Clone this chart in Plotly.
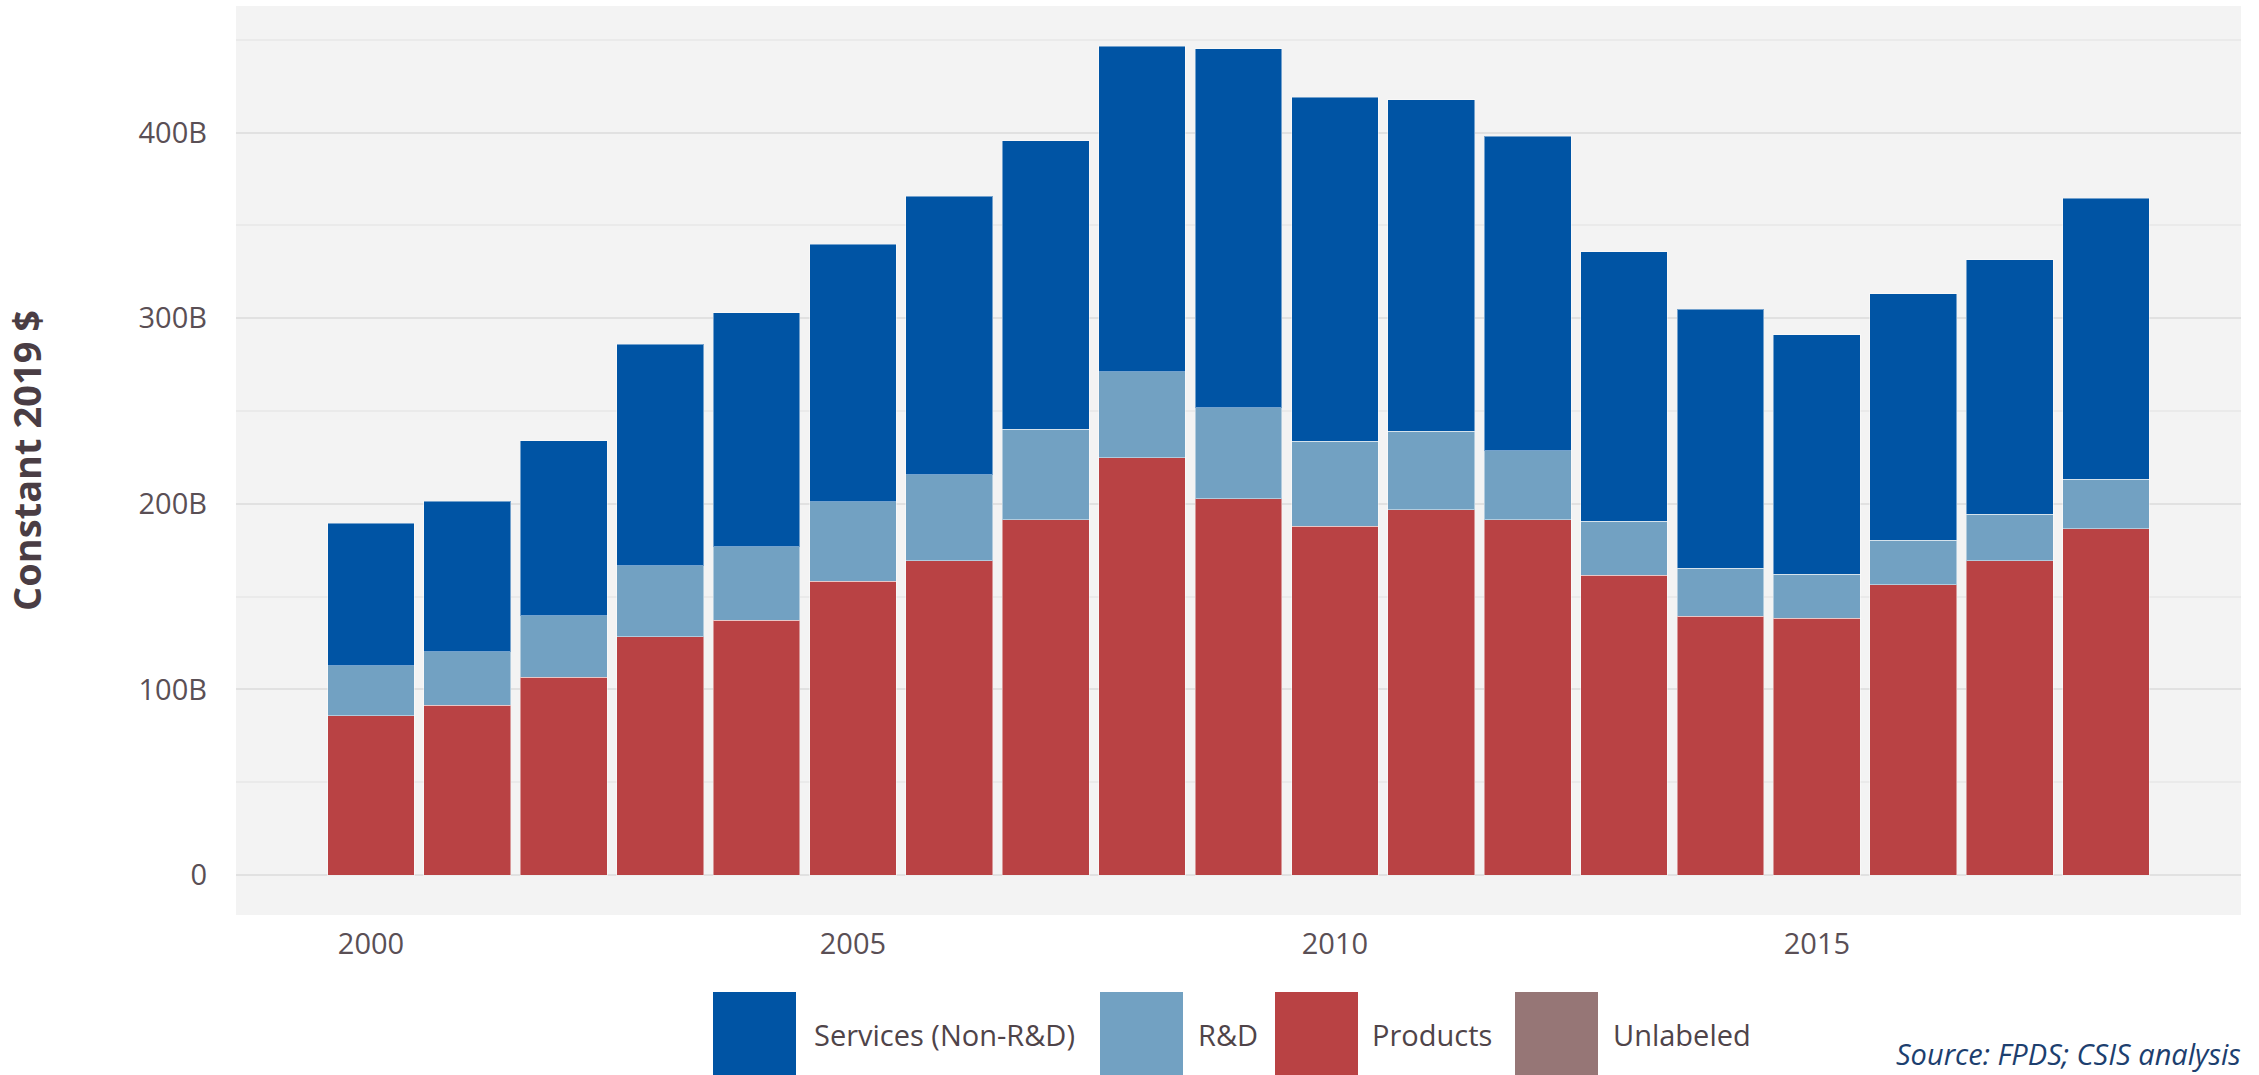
import plotly.graph_objects as go

# ---- data (billions of constant 2019 $) ----
years = list(range(2000, 2019))
products = [85.8, 91.5, 106.6, 128.5, 137.2, 158.2, 169.4, 191.3, 224.7, 202.8,
            188.0, 196.9, 191.3, 161.6, 139.4, 138.4, 156.4, 169.4, 186.7]
rnd = [27.0, 28.7, 33.1, 38.1, 39.6, 43.0, 46.4, 48.9, 46.4, 49.1,
       45.8, 42.1, 37.2, 29.1, 26.0, 23.6, 24.1, 25.0, 26.6]
services = [76.7, 81.3, 94.3, 119.4, 126.2, 138.6, 150.0, 155.3, 175.5, 193.4,
            185.2, 178.8, 169.5, 145.1, 139.4, 129.2, 132.7, 137.0, 151.2]
unlabeled = [0.0] * len(years)

series_names = ["Services (Non-R&D)", "R&D", "Products", "Unlabeled"]
series_colors = ["#0054a4", "#72a1c2", "#b94244", "#967676"]

y_tickvals = [0, 100, 200, 300, 400]
y_ticktext = ["0", "100B", "200B", "300B", "400B"]
y_minorvals = [50, 150, 250, 350, 450]
x_tickvals = [2000, 2005, 2010, 2015]
x_ticktext = ["2000", "2005", "2010", "2015"]

# ---- figure geometry (pixels) ----
W, H = 2259, 1075
L, R, T, B = 236, 18, 6, 160
PW, PH = W - L - R, H - T - B

def px(x):
    return (x - L) / PW

def py(y):
    return (H - B - y) / PH

TEXT = "#4f4449"
FONT = "Open Sans"

fig = go.Figure()
stack = [("Products", products), ("R&D", rnd), ("Services (Non-R&D)", services), ("Unlabeled", unlabeled)]
color_of = dict(zip(series_names, series_colors))
for name, vals in stack:
    fig.add_trace(go.Bar(
        x=years, y=vals, name=name,
        marker=dict(color=color_of[name],
                    line=dict(color="rgba(255,255,255,0.45)", width=0 if name == "Unlabeled" else 1)),
        showlegend=False,
    ))

# custom legend (large swatches)
sw_left = [713, 1100, 1275, 1515]
txt_left = [812, 1196, 1370, 1611]
for name, col, sx, tx in zip(series_names, series_colors, sw_left, txt_left):
    fig.add_shape(type="rect", xref="paper", yref="paper",
                  x0=px(sx), x1=px(sx + 83), y0=py(1085), y1=py(992),
                  fillcolor=col, line=dict(width=0), layer="above")
    fig.add_annotation(xref="paper", yref="paper", x=px(tx), y=py(1034),
                       xanchor="left", yanchor="middle", text=name, showarrow=False,
                       font=dict(family=FONT, size=29, color=TEXT))

fig.add_annotation(xref="paper", yref="paper", x=px(2243), y=py(1075),
                   xanchor="right", yanchor="bottom", text="<i>Source: FPDS; CSIS analysis</i>",
                   showarrow=False, font=dict(family=FONT, size=29, color="#1d3f6f"))

fig.update_layout(
    width=W, height=H,
    margin=dict(l=L, r=R, t=T, b=B, autoexpand=False),
    barmode="stack", bargap=0.1,
    paper_bgcolor="white", plot_bgcolor="#f3f3f3",
    font=dict(family=FONT, color=TEXT, size=29),
    xaxis=dict(range=[1998.6, 2019.4], tickvals=x_tickvals, ticktext=x_ticktext,
               showgrid=False, zeroline=False, showline=False,
               ticks="", ticklabelstandoff=9,
               tickfont=dict(family=FONT, size=29, color="#5a4f55")),
    yaxis=dict(range=[-21.5, 468.2], tickvals=y_tickvals, ticktext=y_ticktext,
               showgrid=True, gridcolor="#e1e1e1", gridwidth=2, zeroline=False, showline=False,
               minor=dict(tickvals=y_minorvals, showgrid=True, gridcolor="#eaeaea", gridwidth=1.5),
               ticks="", ticklabelstandoff=28,
               tickfont=dict(family=FONT, size=29, color="#5a4f55"),
               title=dict(text="Constant 2019 $", standoff=86,
                          font=dict(family=FONT, size=38, color="#4a3d44", weight="bold"))),
    showlegend=False,
)

fig.write_html("out.html", config={"displayModeBar": False},
               post_script="document.body.style.margin='0';document.body.style.overflow='hidden';")
